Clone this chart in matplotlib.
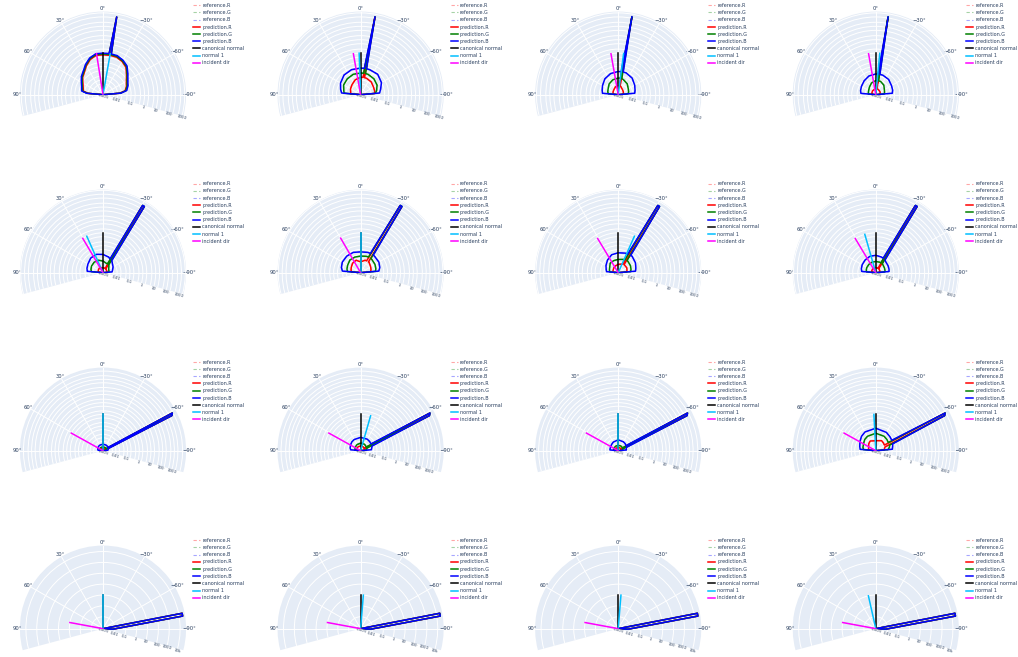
import numpy as np
import matplotlib
matplotlib.use("Agg")
import matplotlib.pyplot as plt
from matplotlib.ticker import NullLocator

# figure size in pixels
W, H = 1018, 657

# radial axis: line origin and per-row upper limit
R0 = 8e-4
R_MAX = [1260, 2300, 10000, 35500]
NORMAL_LEN = 1.0

RTICK_TEXT = {0.001: "0.001", 0.01: "0.01", 0.1: "0.1", 1: "1",
              10: "10", 100: "100", 1000: "1000", 10000: "10k"}
THETA_TICKS = [-90, -60, -30, 0, 30, 60, 90]
THETA_LABELS = ["\u221290\u00b0", "\u221260\u00b0", "\u221230\u00b0", "0\u00b0",
                "30\u00b0", "60\u00b0", "90\u00b0"]

# normal 1 and incident direction angles (deg), one list per row
NORMAL1_DEG = [[-10, 2, -7.5, -5.5],
               [24, 0, -24, 16],
               [0, -16, 0, 3],
               [0, -4.7, -4.7, 12.7]]
INCIDENT_DEG = [[9, 10, 10, 10],
                [30.5, 30, 31, 31],
                [61, 61, 61, 61],
                [79.5, 79.5, 79.5, 79.5]]

# ---- row 1 lobes ----
TH_11 = [-90, -85, -80, -70, -60, -50, -40, -30, -20, -11.5, -10, -8.5, 0, 10, 20, 30, 40, 50, 60, 70, 80, 85, 90]
B_11 = [R0, 0.018, 0.05, 0.077, 0.11, 0.21, 0.49, 0.75, 1.0, 1.0, 620, 1.0, 1.0, 1.0, 0.65, 0.32, 0.156, 0.102, 0.058, 0.04, 0.033, 0.014, R0]
G_11 = [R0, 0.016, 0.043, 0.066, 0.095, 0.18, 0.43, 0.65, 0.87, 0.87, 600, 0.87, 0.87, 0.87, 0.57, 0.28, 0.135, 0.088, 0.05, 0.035, 0.028, 0.012, R0]
R_11 = [R0, 0.014, 0.038, 0.058, 0.082, 0.156, 0.37, 0.57, 0.75, 0.75, 580, 0.75, 0.75, 0.75, 0.49, 0.24, 0.117, 0.077, 0.043, 0.03, 0.024, 0.010, R0]

TH_12 = [-90, -85, -75, -60, -40, -20, -13, -10.5, -8, 0, 20, 40, 60, 75, 85, 90]
B_12 = [R0, 0.021, 0.028, 0.05, 0.077, 0.077, 0.077, 660, 0.077, 0.077, 0.077, 0.066, 0.043, 0.028, 0.021, R0]
G_12 = [R0, 0.0104, 0.0138, 0.021, 0.028, 0.033, 0.033, 650, 0.033, 0.033, 0.033, 0.028, 0.023, 0.016, 0.0138, R0]
R_12 = [R0, 0.009, 0.0097, 0.0104, 0.0138, 0.016, 0.016, 620, 0.016, 0.016, 0.012, 0.0078, 0.0059, 0.0047, 0.0044, R0]

TH_13 = [-90, -85, -75, -60, -40, -20, -12.5, -10, -7.5, 0, 20, 40, 60, 75, 85, 90]
B_13 = [R0, 0.0138, 0.016, 0.021, 0.033, 0.043, 0.043, 660, 0.043, 0.043, 0.0375, 0.028, 0.018, 0.0138, 0.012, R0]
G_13 = [R0, 0.0044, 0.0051, 0.0059, 0.009, 0.012, 0.0138, 620, 0.0138, 0.0138, 0.012, 0.009, 0.0059, 0.0051, 0.0044, R0]
R_13 = [R0, 0.0019, 0.002, 0.0022, 0.0025, 0.0033, 0.0038, 600, 0.0038, 0.0038, 0.0033, 0.0025, 0.0022, 0.002, 0.0019, R0]

TH_14 = [-90, -85, -75, -60, -40, -20, -11.5, -9, -6.5, 0, 20, 40, 60, 75, 85, 90]
B_14 = [R0, 0.0138, 0.016, 0.018, 0.0244, 0.028, 0.028, 620, 0.028, 0.028, 0.0244, 0.018, 0.0138, 0.012, 0.0104, R0]
G_14 = [R0, 0.0033, 0.0038, 0.0044, 0.0068, 0.009, 0.009, 600, 0.009, 0.009, 0.0068, 0.0044, 0.0033, 0.003, 0.0029, R0]
R_14 = [R0, 0.0016, 0.0017, 0.0019, 0.002, 0.0022, 0.0022, 535, 0.0022, 0.0022, 0.002, 0.0019, 0.0017, 0.0016, 0.0016, R0]

# ---- row 2 lobes ----
TH_ROW2 = [-90, -85, -75, -60, -40, -36, -32, -30.5, -27, -20, 0, 20, 40, 60, 75, 85, 90]
B_21 = [R0, 0.0041, 0.0047, 0.0064, 0.01, 0.0116, 940, 940, 0.0125, 0.0156, 0.021, 0.026, 0.0243, 0.018, 0.0156, 0.0134, R0]
G_21 = [R0, 0.00225, 0.0024, 0.0026, 0.0041, 0.0044, 940, 940, 0.0047, 0.0047, 0.0064, 0.0086, 0.0093, 0.0086, 0.0074, 0.0064, R0]
R_21 = [R0, 0.0017, 0.0017, 0.0017, 0.0018, 0.0018, 810, 810, 0.0019, 0.0019, 0.0019, 0.0021, 0.00225, 0.0021, 0.0019, 0.0019, R0]

B_22 = [R0, 0.021, 0.028, 0.035, 0.038, 0.038, 940, 940, 0.038, 0.038, 0.033, 0.038, 0.038, 0.035, 0.028, 0.021, R0]
G_22 = [R0, 0.0116, 0.0134, 0.0156, 0.018, 0.018, 940, 940, 0.018, 0.018, 0.0156, 0.0156, 0.0156, 0.0116, 0.01, 0.0086, R0]
R_22 = [R0, 0.0047, 0.0055, 0.0064, 0.0086, 0.0086, 810, 810, 0.0086, 0.0086, 0.0055, 0.0086, 0.0074, 0.0055, 0.0047, 0.0041, R0]

B_23 = [R0, 0.018, 0.021, 0.028, 0.038, 0.035, 940, 940, 0.033, 0.033, 0.028, 0.0243, 0.0156, 0.01, 0.0074, 0.0064, R0]
G_23 = [R0, 0.0074, 0.0086, 0.01, 0.0116, 0.0116, 940, 940, 0.0108, 0.01, 0.0086, 0.008, 0.0074, 0.0047, 0.0041, 0.0035, R0]
R_23 = [R0, 0.0035, 0.0041, 0.0047, 0.0047, 0.0047, 810, 810, 0.0044, 0.0041, 0.0035, 0.003, 0.0026, 0.00225, 0.0021, 0.0019, R0]

B_24 = [R0, 0.0086, 0.0093, 0.01, 0.0116, 0.0134, 940, 940, 0.0145, 0.0156, 0.018, 0.018, 0.0156, 0.0134, 0.0116, 0.01, R0]
G_24 = [R0, 0.0041, 0.0044, 0.0047, 0.0055, 0.0055, 940, 940, 0.0055, 0.0059, 0.0059, 0.0059, 0.0055, 0.0051, 0.0047, 0.0041, R0]
R_24 = [R0, 0.0017, 0.0017, 0.0018, 0.0019, 0.0019, 810, 810, 0.0019, 0.0019, 0.0019, 0.0019, 0.0019, 0.0018, 0.0017, 0.0017, R0]

# ---- row 3 lobes ----
TH_ROW3 = [-90, -85, -75, -68, -63, -61.5, -57, -45, -30, 0, 30, 45, 60, 75, 85, 90]
B_31 = [R0, 0.0021, 0.0023, 0.0025, 3200, 4400, 0.0025, 0.0027, 0.0028, 0.0029, 0.0028, 0.0027, 0.0025, 0.0023, 0.0021, R0]
G_31 = [R0, 0.0014, 0.0015, 0.0015, 3200, 4400, 0.0015, 0.0017, 0.0017, 0.0017, 0.0017, 0.0017, 0.0015, 0.0015, 0.0014, R0]
R_31 = [R0, 0.0012, 0.0013, 0.0013, 3000, 4200, 0.0013, 0.0014, 0.0014, 0.0014, 0.0014, 0.0014, 0.0013, 0.0013, 0.0012, R0]

B_32 = [R0, 0.0067, 0.0078, 0.0092, 3200, 4400, 0.0092, 0.01, 0.0109, 0.0109, 0.01, 0.0092, 0.0078, 0.0067, 0.0056, R0]
G_32 = [R0, 0.0025, 0.0027, 0.0029, 3200, 4400, 0.0029, 0.0032, 0.0035, 0.0035, 0.0032, 0.0029, 0.0027, 0.0025, 0.0025, R0]
R_32 = [R0, 0.0017, 0.0018, 0.0018, 3000, 4200, 0.0018, 0.0019, 0.002, 0.002, 0.002, 0.0019, 0.0018, 0.0018, 0.0017, R0]

B_33 = [R0, 0.0041, 0.0041, 0.0048, 3200, 4400, 0.0048, 0.0056, 0.006, 0.0067, 0.0056, 0.0048, 0.0044, 0.0041, 0.0041, R0]
G_33 = [R0, 0.002, 0.002, 0.0021, 3200, 4400, 0.0021, 0.0022, 0.0023, 0.0023, 0.0022, 0.0021, 0.0021, 0.002, 0.002, R0]
R_33 = [R0, 0.0014, 0.0014, 0.0015, 3000, 4200, 0.0015, 0.0015, 0.0015, 0.0015, 0.0015, 0.0015, 0.0015, 0.0014, 0.0014, R0]

B_34 = [R0, 0.021, 0.0246, 0.029, 3200, 4400, 0.034, 0.040, 0.051, 0.066, 0.056, 0.043, 0.029, 0.021, 0.0177, R0]
G_34 = [R0, 0.0092, 0.0128, 0.015, 3200, 4400, 0.015, 0.0177, 0.021, 0.0246, 0.021, 0.0177, 0.0128, 0.0109, 0.0092, R0]
R_34 = [R0, 0.0041, 0.0048, 0.0056, 3000, 4200, 0.006, 0.0067, 0.0078, 0.0056, 0.0072, 0.0056, 0.0041, 0.0035, 0.0029, R0]

# ---- row 4 lobes (only the specular wedge shows) ----
TH_ROW4 = [-93, -93, -82.3, -81, -79, -77.5]
LOBE_ROW4 = [R0, 0.0066, 12, 21000, 21000, R0]

PANELS = [
    [(TH_11, R_11, G_11, B_11), (TH_12, R_12, G_12, B_12), (TH_13, R_13, G_13, B_13), (TH_14, R_14, G_14, B_14)],
    [(TH_ROW2, R_21, G_21, B_21), (TH_ROW2, R_22, G_22, B_22), (TH_ROW2, R_23, G_23, B_23), (TH_ROW2, R_24, G_24, B_24)],
    [(TH_ROW3, R_31, G_31, B_31), (TH_ROW3, R_32, G_32, B_32), (TH_ROW3, R_33, G_33, B_33), (TH_ROW3, R_34, G_34, B_34)],
    [(TH_ROW4, LOBE_ROW4, LOBE_ROW4, LOBE_ROW4)] * 4,
]

REF_COLORS = [(1, 0, 0, 0.35), (0, 0.5, 0, 0.35), (0, 0, 1, 0.35)]
PRED_COLORS = ["red", "green", "blue"]
TEXT_COLOR = "#2a3f5f"
BG = "#E5ECF6"

fig = plt.figure(figsize=(W / 100, H / 100), dpi=100)

R_PX = 84
for row in range(4):
    for col in range(4):
        cx = 103 + 257.6 * col
        cy = 95 + 178 * row
        # square box, wedge bbox is centred inside it
        ax = fig.add_axes([(cx - R_PX) / W, 1 - (cy + 0.6294 * R_PX) / H,
                           2 * R_PX / W, 2 * R_PX / H], projection="polar")
        ax.set_theta_zero_location("N")
        ax.set_theta_direction(1)
        ax.set_thetamin(-105)
        ax.set_thetamax(105)
        ax.set_rscale("log")
        ax.set_rlim(R0, R_MAX[row])
        ax.set_facecolor(BG)
        # polar draw() turns start/end spines back on, so blank them instead
        for s in ax.spines.values():
            s.set_color("none")
            s.set_linewidth(0)

        # radial ticks: 1-2-5 grid for rows 1-3, decades for row 4
        mults = [1, 2, 5] if row < 3 else [1]
        ticks, labels = [], []
        for e in range(-4, 6):
            for m in mults:
                v = m * 10.0 ** e
                if R0 < v < R_MAX[row]:
                    ticks.append(v)
                    labels.append(RTICK_TEXT.get(v, "") if m == 1 else "")
        ax.set_yticks(ticks, labels)
        ax.yaxis.set_minor_locator(NullLocator())
        ax.set_rlabel_position(-105)
        ax.tick_params(axis="y", labelsize=2.8, colors=TEXT_COLOR, labelrotation=-15,
                       pad=0, length=0)
        ax.set_thetagrids(THETA_TICKS, THETA_LABELS)
        ax.tick_params(axis="x", labelsize=3.8, colors=TEXT_COLOR, pad=-5, length=0)
        ax.grid(True, color="white", lw=0.7)

        th, rr, gg, bb = PANELS[row][col]
        t = np.deg2rad(th)
        handles = []
        for vals, c in zip((rr, gg, bb), REF_COLORS):
            handles += ax.plot(t, vals, color=c, lw=0.8, ls=(0, (3, 2)))
        for vals, c in zip((rr, gg, bb), PRED_COLORS):
            handles += ax.plot(t, vals, color=c, lw=1.1)
        handles += ax.plot(np.deg2rad([0, 0]), [R0, NORMAL_LEN], color="black", lw=1.1)
        n1 = NORMAL1_DEG[row][col]
        handles += ax.plot(np.deg2rad([n1, n1]), [R0, NORMAL_LEN], color="#00BFFF", lw=1.1)
        inc = INCIDENT_DEG[row][col]
        handles += ax.plot(np.deg2rad([inc, inc]), [R0, NORMAL_LEN], color="magenta", lw=1.1)

        names = ["reference.R", "reference.G", "reference.B",
                 "prediction.R", "prediction.G", "prediction.B",
                 "canonical normal", "normal 1", "incident dir"]
        leg = ax.legend(handles, names, loc="upper left",
                        bbox_to_anchor=((193 + 257.6 * col) / W, 1 - (3 + 178.3 * row) / H),
                        bbox_transform=fig.transFigure, frameon=False,
                        fontsize=3.5, labelspacing=0.45, handlelength=1.5,
                        handletextpad=0.4, borderpad=0, borderaxespad=0)
        for txt in leg.get_texts():
            txt.set_color(TEXT_COLOR)

fig.savefig("out.png", dpi=100)
